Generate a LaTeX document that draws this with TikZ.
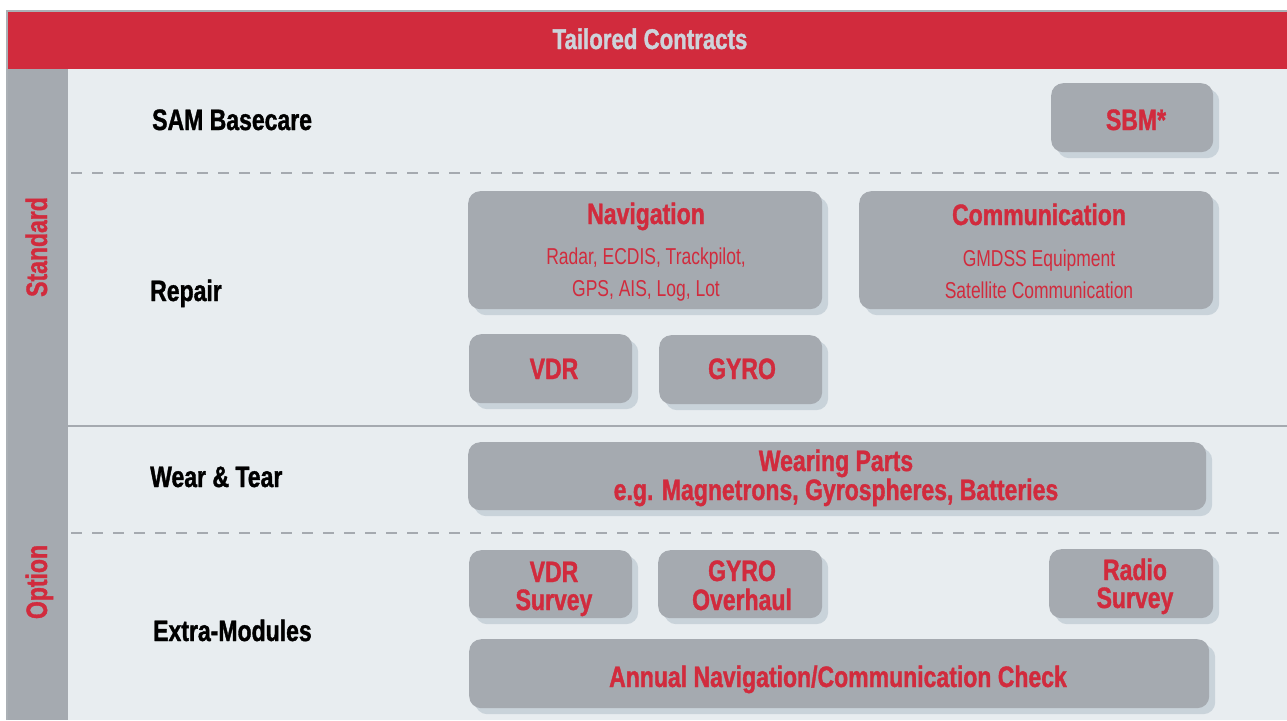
\documentclass[tikz,border=0pt]{standalone}
\usepackage{fontspec}
\setmainfont{Liberation Sans}[FakeStretch=0.78, BoldFeatures={FakeBold=1.2}]
\newfontfamily\regf{Liberation Sans}[FakeStretch=0.76]
\usetikzlibrary{shadows}
\definecolor{cred}{HTML}{D12B3D}
\definecolor{cgray}{HTML}{A5AAB0}
\definecolor{cshadow}{HTML}{C9D3DA}
\definecolor{cbg}{HTML}{E8EDF0}
\definecolor{chead}{HTML}{CDD3DA}
\definecolor{cborder}{HTML}{ABB0B5}
\tikzset{
  modbox/.style={fill=cgray, draw=none, rounded corners=12pt, inner sep=0pt, anchor=north west,
     drop shadow={shadow xshift=6pt, shadow yshift=-6pt, fill=cshadow, opacity=1}},
  btxt/.style={font=\bfseries\fontsize{29.5}{32}\selectfont, text=cred, anchor=base, inner sep=0pt},
  rtxt/.style={font=\regf\fontsize{23}{26}\selectfont, text=cred, anchor=base, inner sep=0pt},
  lbl/.style={font=\bfseries\fontsize{29.5}{32}\selectfont, text=black, anchor=base west, inner sep=0pt},
  side/.style={font=\bfseries\fontsize{29.5}{32}\selectfont, text=cred, anchor=base, inner sep=0pt, rotate=90},
  sep/.style={draw=cgray, line width=2.2pt},
  dsep/.style={draw=cgray, line width=2.6pt, dash pattern=on 11pt off 10pt}
}
\begin{document}
\begin{tikzpicture}[x=1pt,y=-1pt]
\useasboundingbox (0,0) rectangle (1287,720);
% background
\fill[white] (0,0) rectangle (1287,720);
\fill[cbg] (68,69) rectangle (1287,720);
\fill[cgray] (8,69) rectangle (68,720);
\fill[cred] (8,12) rectangle (1287,69);
\draw[cborder, line width=2pt] (7,720) -- (7,11) -- (1287,11);
\node[font=\bfseries\fontsize{28.5}{32}\selectfont, text=chead, anchor=base, inner sep=0pt] (title) at (650,49) {Tailored Contracts};
% separators
\coordinate (d1a) at (71,173); \coordinate (d1b) at (1287,173);
\coordinate (s1a) at (68,426); \coordinate (s1b) at (1287,426);
\coordinate (d2a) at (71,533); \coordinate (d2b) at (1287,533);
\draw[dsep] (d1a) -- (d1b);
\draw[sep] (s1a) -- (s1b);
\draw[dsep] (d2a) -- (d2b);
% side labels
\node[side] (std) at (47,247) {Standard};
\node[side] (opt) at (47,582) {Option};
% row labels
\node[lbl] (sam) at (152,130) {SAM Basecare};
\node[lbl] (rep) at (150,301) {Repair};
\node[lbl] (wear) at (150,487) {Wear \& Tear};
\node[lbl] (extra) at (153,641) {Extra-Modules};
% boxes
\node[modbox, minimum width=162pt, minimum height=69pt] (sbm) at (1051,83) {};
\node[btxt] at (1136,130) {SBM*};
\node[modbox, minimum width=354pt, minimum height=118pt] (nav) at (468,191) {};
\node[btxt] at (646,224) {Navigation};
\node[rtxt] at (646,264) {Radar, ECDIS, Trackpilot,};
\node[rtxt] at (646,296) {GPS, AIS, Log, Lot};
\node[modbox, minimum width=354pt, minimum height=118pt] (com) at (859,191) {};
\node[btxt] at (1039,225) {Communication};
\node[rtxt] at (1039,266) {GMDSS Equipment};
\node[rtxt] at (1039,298) {Satellite Communication};
\node[modbox, minimum width=163pt, minimum height=69pt] (vdr) at (469,334) {};
\node[btxt] at (554,379) {VDR};
\node[modbox, minimum width=163pt, minimum height=69pt] (gyro) at (659,335) {};
\node[btxt] at (742,379) {GYRO};
\node[modbox, minimum width=738pt, minimum height=68pt] (wp) at (468,442) {};
\node[btxt] at (836,471) {Wearing Parts};
\node[btxt] at (836,500) {e.g. Magnetrons, Gyrospheres, Batteries};
\node[modbox, minimum width=163pt, minimum height=68pt] (vdrs) at (469,550) {};
\node[btxt] at (554,582) {VDR};
\node[btxt] at (554,610) {Survey};
\node[modbox, minimum width=164pt, minimum height=68pt] (gyroo) at (658,550) {};
\node[btxt] at (742,581) {GYRO};
\node[btxt] at (742,610) {Overhaul};
\node[modbox, minimum width=164pt, minimum height=69pt] (radio) at (1049,549) {};
\node[btxt] at (1135,580) {Radio};
\node[btxt] at (1135,608) {Survey};
\node[modbox, minimum width=740pt, minimum height=69pt] (annual) at (469,639) {};
\node[btxt] at (838,687) {Annual Navigation/Communication Check};
\end{tikzpicture}
\end{document}
